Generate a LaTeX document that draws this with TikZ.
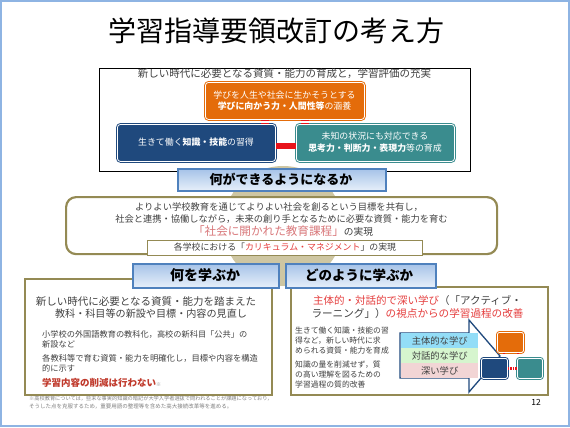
\documentclass[tikz,border=0pt]{standalone}
\usepackage{fontspec}
\setmainfont{Noto Sans CJK JP}
\usetikzlibrary{shadows}
\definecolor{framecol}{HTML}{8EB4E3}
\definecolor{orangeC}{HTML}{E46C0A}
\definecolor{navyC}{HTML}{1F497D}
\definecolor{tealC}{HTML}{3A8C8E}
\definecolor{bannerblue}{HTML}{4F81BD}
\definecolor{bantop}{HTML}{A6C3E8}
\definecolor{banbot}{HTML}{E8F0FA}
\definecolor{oliveC}{HTML}{948A54}
\definecolor{tanC}{HTML}{CEC6A2}
\definecolor{txtgray}{HTML}{404040}
\definecolor{connred}{HTML}{E8141B}
\definecolor{pinkred}{HTML}{D9777A}
\definecolor{redtext}{HTML}{E53E3E}
\definecolor{boldred}{HTML}{C0392B}
\definecolor{notegray}{HTML}{808080}
\definecolor{cyanband}{HTML}{93DDF7}
\definecolor{greenband}{HTML}{D6F5CE}
\definecolor{pinkband}{HTML}{F2D5D5}
\newcommand{\jfs}[1]{\fontsize{#1}{#1}\selectfont}
\begin{document}
\begin{tikzpicture}[x=1pt,y=-1pt,
  txt/.style={inner sep=0pt, text=txtgray},
  box/.style={inner sep=0pt, anchor=north west},
  colbox/.style={box, rounded corners=3pt, line width=0.9pt, double=white, double distance=0.8pt},
  banner/.style={box, draw=bannerblue, line width=1.8pt, top color=bantop, bottom color=banbot,
    drop shadow={opacity=0.25, shadow xshift=1.5pt, shadow yshift=-1.5pt}},
  band/.style={box, minimum width=77pt, minimum height=15pt, text=txtgray, font=\jfs{9.3}}
]
\useasboundingbox (0,0) rectangle (570,428);
\fill[white] (0,0) rectangle (570,428);
\draw[framecol, line width=1.5pt] (1,1) rectangle (569,426);

% title
\node[txt, text=black] (title) at (276,31) {\jfs{28}学習指導要領改訂の考え方};

% top box
\node[box, draw=black, line width=1.4pt, minimum width=371pt, minimum height=103pt] (topbox) at (99,68) {};
\node[txt] (toptxt) at (284.5,74) {\jfs{10.5}新しい時代に必要となる資質・能力の育成と，学習評価の充実};

\node[colbox, fill=orangeC, draw=orangeC, minimum width=159pt, minimum height=37pt] (orange) at (205,82) {};
\node[txt, text=white] (or1) at (284.5,95) {\jfs{8.9}学びを人生や社会に生かそうとする};
\node[txt, text=white] (or2) at (284.5,106.5) {\jfs{8.9}{\bfseries 学びに向かう力・人間性等}の涵養};

\node[colbox, fill=navyC, draw=navyC, minimum width=158pt, minimum height=37pt] (blue) at (117,124) {};
\node[txt, text=white] (bl1) at (196,142.5) {\jfs{8.9}生きて働く{\bfseries 知識・技能}の習得};

\node[colbox, fill=tealC, draw=tealC, minimum width=158pt, minimum height=37pt] (teal) at (296,124) {};
\node[txt, text=white] (te1) at (375,136.5) {\jfs{8.9}未知の状況にも対応できる};
\node[txt, text=white] (te2) at (375,148) {\jfs{8.9}{\bfseries 思考力・判断力・表現力}等の育成};

% connectors
\draw[connred, line width=6pt] ([yshift=-3.5pt]blue.east) -- ([yshift=-3.5pt]teal.west);
\coordinate (cA) at (265,0);
\coordinate (cB) at (305,0);
\foreach \c/\t in {cA/blue, cB/teal}{
  \draw[connred, line width=8pt] (orange.south -| \c) -- (\t.north -| \c);
  \draw[white, line width=8.5pt, shorten <=1.3pt, shorten >=1.3pt] (orange.south -| \c) -- (\t.north -| \c);
}

% tan circle hub
\node[circle, fill=tanC, minimum size=120pt, inner sep=0pt] (hub) at (283,226) {};

% banner 1
\node[banner, minimum width=208pt, minimum height=22pt] (ban1) at (177,168) {};
\node[txt, text=black] (ban1t) at (281,179.5) {\jfs{13}\bfseries 何ができるようになるか};

% middle box
\node[box, draw=oliveC, line width=2.2pt, rounded corners=10pt, fill=white, minimum width=431pt, minimum height=57pt] (mid) at (65,196) {};
\node[txt] (m1) at (279,207.5) {\jfs{9.3}よりよい学校教育を通じてよりよい社会を創るという目標を共有し，};
\node[txt] (m2) at (281.5,219) {\jfs{9.25}社会と連携・協働しながら，未来の創り手となるために必要な資質・能力を育む};
\node[txt] (m3) at (283,231.5) {{\jfs{11.6}\color{pinkred}「社会に開かれた教育課程」}{\jfs{9.7}の実現}};
\node[box, draw=oliveC, line width=1.2pt, fill=white, minimum width=275pt, minimum height=15pt] (sub) at (147,240) {};
\node[txt] (subt) at (285,247.5) {\jfs{8.9}各学校における「{\color{redtext}カリキュラム・マネジメント}」の実現};

% bottom boxes
\node[box, draw=oliveC, line width=1.5pt, fill=white, minimum width=247pt, minimum height=116pt] (left) at (24,278) {};
\node[box, draw=oliveC, line width=1.5pt, fill=white, minimum width=257pt, minimum height=108pt] (right) at (290,286) {};

\node[banner, minimum width=146pt, minimum height=24pt] (ban2) at (132,263) {};
\node[txt, text=black] (ban2t) at (205,275.5) {\jfs{14}\bfseries 何を学ぶか};
\node[banner, minimum width=150pt, minimum height=24pt] (ban3) at (285,263) {};
\node[txt, text=black] (ban3t) at (359,275.5) {\jfs{13.5}\bfseries どのように学ぶか};

% left content
\node[txt] (l1) at (146,301.5) {\jfs{10.5}新しい時代に必要となる資質・能力を踏まえた};
\node[txt] (l2) at (151,314) {\jfs{10.1}教科・科目等の新設や目標・内容の見直し};
\node[txt, anchor=west] (l3) at (42,334) {\jfs{8.2}小学校の外国語教育の教科化，高校の新科目「公共」の};
\node[txt, anchor=west] (l4) at (42,344) {\jfs{8.2}新設など};
\node[txt, anchor=west] (l5) at (42,358.5) {\jfs{8.3}各教科等で育む資質・能力を明確化し，目標や内容を構造};
\node[txt, anchor=west] (l6) at (42,368) {\jfs{8.2}的に示す};
\node[txt, anchor=west, text=boldred] (l7) at (42,382.5) {\jfs{9.5}\bfseries 学習内容の削減は行わない{\mdseries\jfs{5}\color{notegray}※}};
\node[txt, anchor=west, text=notegray] (n1) at (29,399) {\jfs{5.2}※高校教育については，些末な事実的知識の暗記が大学入学者選抜で問われることが課題になっており，};
\node[txt, anchor=west, text=notegray] (n2) at (29,406) {\jfs{5.5}そうした点を克服するため，重要用語の整理等を含めた高大接続改革等を進める。};

% right content
\node[txt] (r1) at (417.5,300.5) {\jfs{10.5}{\color{redtext}主体的・対話的で深い学び}（「アクティブ・};
\node[txt] (r2) at (417.5,313.5) {\jfs{10.6}ラーニング」）{\color{redtext}の視点からの学習過程の改善}};
\node[txt, anchor=west] (r3) at (295,331) {\jfs{7.8}生きて働く知識・技能の習};
\node[txt, anchor=west] (r4) at (295,341) {\jfs{7.8}得など，新しい時代に求};
\node[txt, anchor=west] (r5) at (295,351) {\jfs{7.8}められる資質・能力を育成};
\node[txt, anchor=west] (r6) at (295,364.5) {\jfs{7.8}知識の量を削減せず，質};
\node[txt, anchor=west] (r7) at (295,374.5) {\jfs{7.8}の高い理解を図るための};
\node[txt, anchor=west] (r8) at (295,384.5) {\jfs{7.8}学習過程の質的改善};

% callout arrow
\draw[navyC, line width=1.3pt, fill=white, line join=miter] (400,333) -- (469,333) -- (469,320) -- (500,356) -- (469,392) -- (469,378) -- (400,378) -- cycle;
\node[band, fill=cyanband] (b1) at (401,333) {主体的な学び};
\node[band, fill=greenband] (b2) at (401,348) {対話的な学び};
\node[band, fill=pinkband] (b3) at (401,363) {深い学び};

% small diagram
\node[colbox, rounded corners=2pt, fill=orangeC, draw=orangeC, minimum width=26pt, minimum height=20pt] (so) at (497,332) {};
\node[colbox, rounded corners=2pt, fill=navyC, draw=navyC, minimum width=26pt, minimum height=20pt] (sb) at (481,358) {};
\node[colbox, rounded corners=2pt, fill=tealC, draw=tealC, minimum width=25pt, minimum height=20pt] (st) at (517,358) {};
\draw[connred, line width=2.5pt, dash pattern=on 1.5pt off 1pt] (sb.east) -- (st.west);
\coordinate (cC) at (504,0);
\coordinate (cD) at (518,0);
\draw[connred, line width=1.2pt] (so.south -| cC) -- ([yshift=-1.5pt]so.south -| cC);
\draw[connred, line width=1.2pt] (so.south -| cD) -- ([yshift=-1.5pt]so.south -| cD);

\node[txt, text=black] (page) at (536,402) {\jfs{8.5}12};
\end{tikzpicture}
\end{document}
